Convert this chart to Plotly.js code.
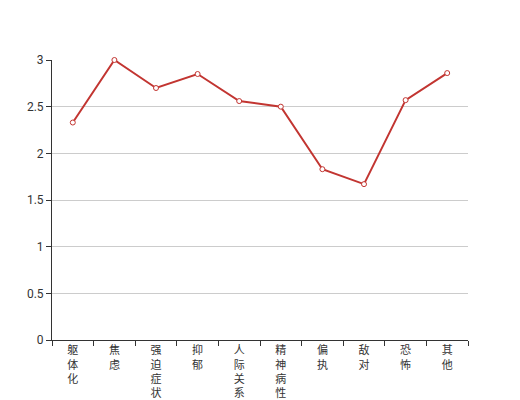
<!DOCTYPE html>
<html>
<head>
<meta charset="utf-8">
<script src="https://cdn.plot.ly/plotly-3.0.1.min.js"></script>
<style>html,body{margin:0;padding:0;background:#fff;}#chart{width:520px;height:400px;}</style>
</head>
<body>
<div id="chart"></div>
<script>
var categories = ["躯体化", "焦虑", "强迫症状", "抑郁", "人际关系敏感", "精神病性", "偏执", "敌对", "恐怖", "其他"];
var values = [2.33, 3.0, 2.70, 2.85, 2.56, 2.50, 1.83, 1.67, 2.57, 2.86];
var yTickVals = [0, 0.5, 1, 1.5, 2, 2.5, 3];
var yTickText = ["0", "0.5", "1", "1.5", "2", "2.5", "3"];

var vertLabels = categories.map(function (c) { return c.split("").join("<br>"); });

var trace = {
  type: "scatter",
  mode: "lines+markers",
  x: categories,
  y: values,
  cliponaxis: false,
  line: { color: "#c23531", width: 2 },
  marker: { size: 5, color: "#ffffff", line: { color: "#c23531", width: 1 } },
  hoverinfo: "x+y"
};

var layout = {
  width: 520,
  height: 400,
  margin: { l: 52, r: 52, t: 60, b: 60 },
  paper_bgcolor: "#ffffff",
  plot_bgcolor: "#ffffff",
  showlegend: false,
  font: { family: "Roboto, 'Noto Sans CJK SC', sans-serif", size: 12, color: "#333333" },
  xaxis: {
    type: "category",
    categoryorder: "array",
    categoryarray: categories,
    tickvals: categories,
    ticktext: vertLabels,
    range: [-0.5, categories.length - 0.5],
    tickson: "boundaries",
    ticks: "outside",
    ticklen: 5,
    tickcolor: "#333333",
    showgrid: false,
    showline: true,
    linecolor: "#333333",
    linewidth: 1,
    zeroline: false,
    automargin: false,
    tickfont: { size: 11, color: "#333333" },
    fixedrange: true
  },
  yaxis: {
    range: [0, 3],
    tickvals: yTickVals,
    ticktext: yTickText,
    ticks: "outside",
    ticklen: 5,
    tickcolor: "#333333",
    showline: true,
    linecolor: "#333333",
    linewidth: 1,
    showgrid: true,
    gridcolor: "#cccccc",
    gridwidth: 1,
    zeroline: false,
    automargin: false,
    tickfont: { size: 12, color: "#333333" },
    fixedrange: true
  }
};

Plotly.newPlot("chart", [trace], layout, { displayModeBar: false, staticPlot: true });
</script>
</body>
</html>
